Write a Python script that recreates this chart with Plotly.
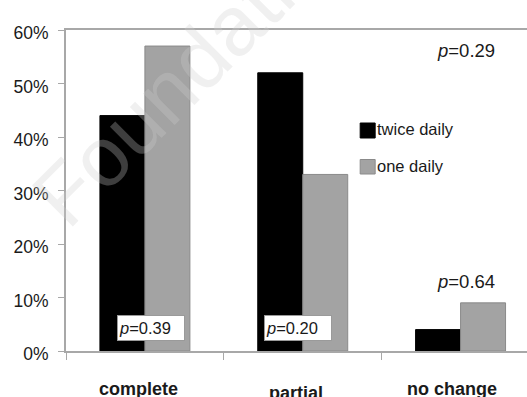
import plotly.graph_objects as go

# ---- data ----
categories = ["complete", "partial", "no change"]
series_names = ["twice daily", "one daily"]
twice_daily = [44, 52, 4]
one_daily = [57, 33, 9]
y_ticks = [0, 10, 20, 30, 40, 50, 60]
y_tick_labels = ["0%", "10%", "20%", "30%", "40%", "50%", "60%"]
p_boxed = ["p=0.39", "p=0.20"]          # inside boxes at bottom of complete / partial
p_top = "p=0.29"
p_nochange = "p=0.64"

# ---- geometry helpers (pixel -> paper) ----
W, H = 527, 397
L, R, T, B = 65.5, 0, 30, 46
PW, PH = W - L - R, H - T - B


def px(x):
    return (x - L) / PW


def py(y):
    return (H - B - y) / PH


def ptxt(s):
    p, rest = s.split("=", 1)
    return f"<i>{p}</i>={rest}"


SANS = "Liberation Sans, Arial, sans-serif"
colors = ["#000000", "#a3a3a3"]
edge = ["#000000", "#8a8a8a"]
axis_gray = "#a8a8a8"

fig = go.Figure()
for name, vals, c, e in zip(series_names, [twice_daily, one_daily], colors, edge):
    fig.add_trace(go.Bar(
        x=categories, y=vals, name=name,
        marker=dict(color=c, line=dict(color=e, width=1)),
        showlegend=False, hoverinfo="skip",
    ))

ann = []
# watermark
ann.append(dict(
    text="Foundation", xref="paper", yref="paper", x=px(196), y=py(62),
    xanchor="center", yanchor="middle",
    showarrow=False, textangle=-45,
    font=dict(family=SANS, size=84, color="rgba(205,205,205,0.30)"),
))

# category labels
cat_shift = [(-6, 0), (-7, -4), (-9, 0)]
for cat, (xs, ys) in zip(categories, cat_shift):
    ann.append(dict(
        text=f"<b>{cat}</b>", xref="x", yref="paper", x=cat, y=0,
        yanchor="top", xanchor="center", yshift=-26 + ys, xshift=xs,
        showarrow=False,
        font=dict(family=SANS, size=18, color="#1a1a1a"),
    ))

# boxed p-values
box_left = [116.7, 263.3]
for txt, xl in zip(p_boxed, box_left):
    ann.append(dict(
        text=ptxt(txt), xref="paper", yref="paper", x=px(xl), y=py(328),
        xanchor="left", yanchor="middle", align="left", width=64, height=22,
        showarrow=False, bgcolor="white", bordercolor="#9a9a9a", borderwidth=1,
        borderpad=1,
        font=dict(family=SANS, size=16.5, color="#1a1a1a"),
    ))

# free p-values
for txt, (xc, yc) in zip([p_top, p_nochange], [(466, 50), (465.5, 281)]):
    ann.append(dict(
        text=ptxt(txt), xref="paper", yref="paper", x=px(xc), y=py(yc),
        xanchor="center", yanchor="middle", showarrow=False,
        font=dict(family=SANS, size=18.5, color="#1a1a1a"),
    ))

# manual legend
shapes = []
leg_rows = [(123, 138, 129), (159.5, 174, 166)]
for name, c, e, (y0, y1, yc) in zip(series_names, colors, edge, leg_rows):
    shapes.append(dict(type="rect", xref="paper", yref="paper",
                       x0=px(360), x1=px(375), y0=py(y1), y1=py(y0),
                       fillcolor=c, line=dict(color=e, width=1)))
    ann.append(dict(
        text=name, xref="paper", yref="paper", x=px(375), y=py(yc),
        xanchor="left", yanchor="middle", showarrow=False,
        font=dict(family=SANS, size=16.5, color="#1a1a1a"),
    ))

fig.update_layout(
    width=W, height=H,
    margin=dict(l=L, r=R, t=T, b=B, pad=0),
    paper_bgcolor="white", plot_bgcolor="white",
    barmode="group", bargap=0.43, bargroupgap=0,
    annotations=ann, shapes=shapes,
    showlegend=False, hovermode=False,
)
fig.update_xaxes(
    range=[-0.5, -0.5 + PW / 158.0],
    showline=True, linecolor=axis_gray, linewidth=2, mirror=True,
    ticks="outside", tickson="boundaries", ticklen=7, tickcolor=axis_gray, tickwidth=1,
    showticklabels=False, showgrid=False, zeroline=False,
)
fig.update_yaxes(
    range=[0, 60], tickvals=y_ticks, ticktext=y_tick_labels,
    showline=True, linecolor=axis_gray, linewidth=2,
    ticks="outside", ticklen=6, tickcolor=axis_gray, tickwidth=1,
    ticklabelstandoff=6, ticklabelshift=3,
    tickfont=dict(family=SANS, size=17.5, color="#1a1a1a"),
    showgrid=False, zeroline=False,
)

fig.write_html("out.html", config={"displayModeBar": False},
               post_script="document.body.style.margin='0px';")
